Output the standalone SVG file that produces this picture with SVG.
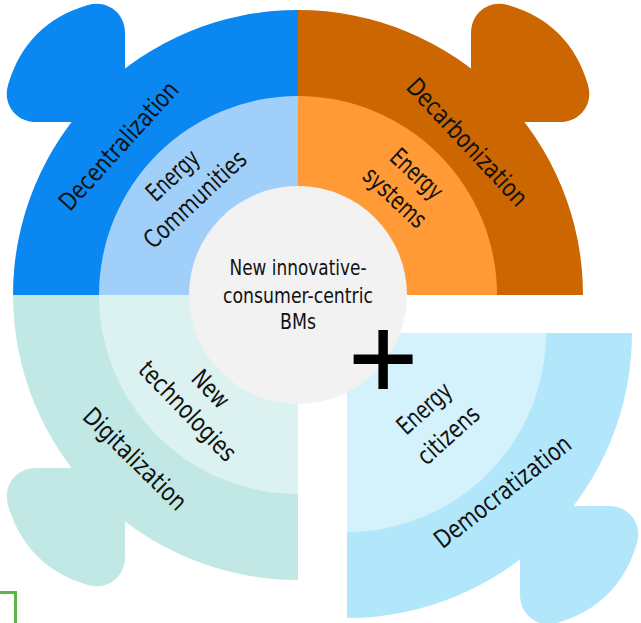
<svg xmlns="http://www.w3.org/2000/svg" xmlns:xlink="http://www.w3.org/1999/xlink" width="641" height="623" viewBox="0 0 641 623">
  <style>
    .lbl { font-family: 'Liberation Sans Narrow', 'DejaVu Sans Condensed', 'Noto Sans', sans-serif; fill: #111; text-anchor: middle; }
    .outer { font-size: 25px; }
    .inner { font-size: 25px; }
    .core { font-size: 21px; }
    .plus { font-family: 'DejaVu Sans', sans-serif; font-size: 91px; fill: #000; stroke: #000; stroke-width: 2; text-anchor: middle; }
  </style>
  <defs>
    <!-- rounded tab, drawn for the upper-left quarter relative to its centre -->
    <path id="tab" d="M-173,-205 L-173,-262 C-173,-282 -190.8,-295.6 -210,-290 C-251.3,-277.9 -277.9,-251.3 -290,-210 C-295.6,-190.8 -282,-173 -262,-173 L-205,-173 Z"/>
  </defs>

  <rect width="641" height="623" fill="#fff"/>

  <!-- Decentralization quarter -->
  <g id="node-decentralization">
    <path d="M298,295 L13,295 A285,285 0 0 1 298,10 Z" fill="#0b87f1"/>
    <use xlink:href="#tab" href="#tab" transform="translate(298,295)" fill="#0b87f1"/>
    <path d="M298,295 L99,295 A199,199 0 0 1 298,96 Z" fill="#a0d0fa"/>
    <text class="lbl outer" transform="translate(125,151.5) rotate(-47.8)" textLength="164" lengthAdjust="spacingAndGlyphs">Decentralization</text>
    <g class="lbl inner" transform="rotate(-43 190 194)">
      <text x="190" y="177" textLength="62" lengthAdjust="spacingAndGlyphs">Energy</text>
      <text x="190" y="210" textLength="130" lengthAdjust="spacingAndGlyphs">Communities</text>
    </g>
  </g>

  <!-- Decarbonization quarter -->
  <g id="node-decarbonization">
    <path d="M298,295 L298,10 A285,285 0 0 1 583,295 Z" fill="#cc6600"/>
    <use xlink:href="#tab" href="#tab" transform="translate(298,295) scale(-1,1)" fill="#cc6600"/>
    <path d="M298,295 L298,96 A199,199 0 0 1 497,295 Z" fill="#ff9a36"/>
    <text class="lbl outer" transform="translate(461,148) rotate(47)" textLength="164" lengthAdjust="spacingAndGlyphs">Decarbonization</text>
    <g class="lbl inner" transform="rotate(43 400 192)">
      <text x="400" y="176" textLength="62" lengthAdjust="spacingAndGlyphs">Energy</text>
      <text x="400" y="208" textLength="76" lengthAdjust="spacingAndGlyphs">systems</text>
    </g>
  </g>

  <!-- Digitalization quarter -->
  <g id="node-digitalization">
    <path d="M298,295 L298,580 A285,285 0 0 1 13,295 Z" fill="#c1e8e5"/>
    <use xlink:href="#tab" href="#tab" transform="translate(298,295) scale(1,-1)" fill="#c1e8e5"/>
    <path d="M298,295 L298,494 A199,199 0 0 1 99,295 Z" fill="#dcf2f0"/>
    <text class="lbl outer" transform="translate(129,465) rotate(44.5)" textLength="134" lengthAdjust="spacingAndGlyphs">Digitalization</text>
    <g class="lbl inner" transform="rotate(46 193 406)">
      <text x="193" y="390" textLength="42" lengthAdjust="spacingAndGlyphs">New</text>
      <text x="193" y="422" textLength="128" lengthAdjust="spacingAndGlyphs">technologies</text>
    </g>
  </g>

  <!-- Democratization quarter, set apart from the others -->
  <g id="node-democratization">
    <path d="M347,333 L632,333 A285,285 0 0 1 347,618 Z" fill="#b2e7fb"/>
    <use xlink:href="#tab" href="#tab" transform="translate(347,333) scale(-1,-1)" fill="#b2e7fb"/>
    <path d="M347,333 L546,333 A199,199 0 0 1 347,532 Z" fill="#d4f2fc"/>
    <text class="lbl outer" transform="translate(508,498.5) rotate(-38)" textLength="166" lengthAdjust="spacingAndGlyphs">Democratization</text>
    <g class="lbl inner" transform="rotate(-42 442 428)">
      <text x="442" y="410" textLength="64" lengthAdjust="spacingAndGlyphs">Energy</text>
      <text x="442" y="446" textLength="74" lengthAdjust="spacingAndGlyphs">citizens</text>
    </g>
  </g>

  <!-- centre disc -->
  <g id="node-core">
    <circle cx="298" cy="295" r="109" fill="#f2f2f2"/>
    <text class="lbl core" x="298" y="275" textLength="137" lengthAdjust="spacingAndGlyphs">New innovative-</text>
    <text class="lbl core" x="298" y="303" textLength="150" lengthAdjust="spacingAndGlyphs">consumer-centric</text>
    <text class="lbl core" x="298" y="329" textLength="36" lengthAdjust="spacingAndGlyphs">BMs</text>
  </g>

  <g id="node-plus">
    <text class="plus" x="383" y="387.5">+</text>
  </g>

  <g id="connectors">
    <path d="M0,592.5 H15.5 V623" fill="none" stroke="#5cb646" stroke-width="3"/>
  </g>
</svg>
